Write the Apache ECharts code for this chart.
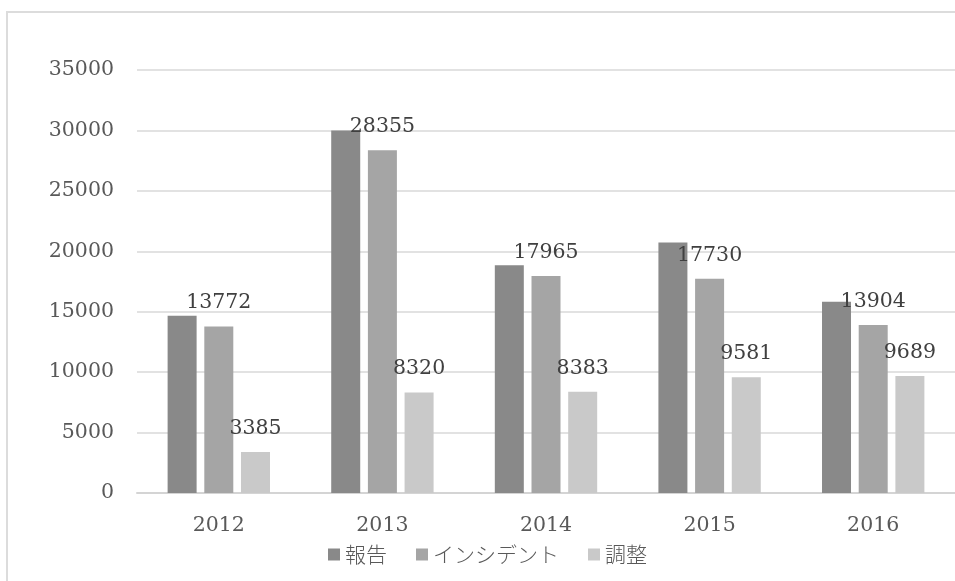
<!DOCTYPE html>
<html>
<head>
<meta charset="utf-8">
<script src="https://cdn.jsdelivr.net/npm/echarts@6/dist/echarts.min.js"></script>
<style>
  html, body { margin: 0; padding: 0; background: #ffffff; }
  #chart { width: 955px; height: 581px; }
</style>
</head>
<body>
<div id="chart"></div>
<script>
// Yearly counts per category
const years = ['2012', '2013', '2014', '2015', '2016'];
const seriesNames = ['報告', 'インシデント', '調整'];
const reports = [14660, 29990, 18850, 20720, 15820];
const incidents = [13772, 28355, 17965, 17730, 13904];
const coordination = [3385, 8320, 8383, 9581, 9689];
const yTicks = { min: 0, max: 35000, interval: 5000 };

const numFont = '"DejaVu Serif", "Liberation Serif", serif';
const cjkFont = '"Noto Sans CJK JP", sans-serif';

const chart = echarts.init(document.getElementById('chart'), null, { renderer: 'canvas' });

function barSeries(name, data, color, showLabel) {
  return {
    name: name,
    type: 'bar',
    data: data,
    barWidth: 29,
    barGap: '26.5%',
    itemStyle: { color: color },
    emphasis: { disabled: true },
    label: {
      show: showLabel,
      position: 'top',
      distance: 13,
      color: '#404040',
      fontFamily: numFont,
      fontSize: 20.5
    }
  };
}

chart.setOption({
  backgroundColor: '#ffffff',
  animation: false,
  graphic: [{
    type: 'rect',
    shape: { x: 7, y: 12, width: 1200, height: 1200 },
    style: { fill: 'none', stroke: '#dcdcdc', lineWidth: 2 },
    silent: true,
    z: -1
  }],
  legend: {
    data: seriesNames,
    left: 323,
    top: 539,
    icon: 'rect',
    itemWidth: 12,
    itemHeight: 12,
    itemGap: 29,
    textStyle: { color: '#595959', fontFamily: cjkFont, fontSize: 21, fontWeight: 300 }
  },
  grid: { left: 137, top: 70, width: 831, height: 423, containLabel: false },
  xAxis: {
    type: 'category',
    data: years,
    axisTick: { show: false },
    axisLine: { show: true, lineStyle: { color: '#d4d4d4', width: 2 } },
    axisLabel: { color: '#595959', fontFamily: numFont, fontSize: 20.5, margin: 22 }
  },
  yAxis: {
    type: 'value',
    min: yTicks.min,
    max: yTicks.max,
    interval: yTicks.interval,
    axisLine: { show: false },
    axisTick: { show: false },
    splitLine: { lineStyle: { color: '#d9d9d9', width: 1.5 } },
    axisLabel: {
      color: '#595959',
      fontFamily: numFont,
      fontSize: 20.5,
      margin: 23,
      formatter: function (v) { return String(v); }
    }
  },
  series: [
    barSeries(seriesNames[0], reports, '#898989', false),
    barSeries(seriesNames[1], incidents, '#a5a5a5', true),
    barSeries(seriesNames[2], coordination, '#c9c9c9', true)
  ]
});
</script>
</body>
</html>
